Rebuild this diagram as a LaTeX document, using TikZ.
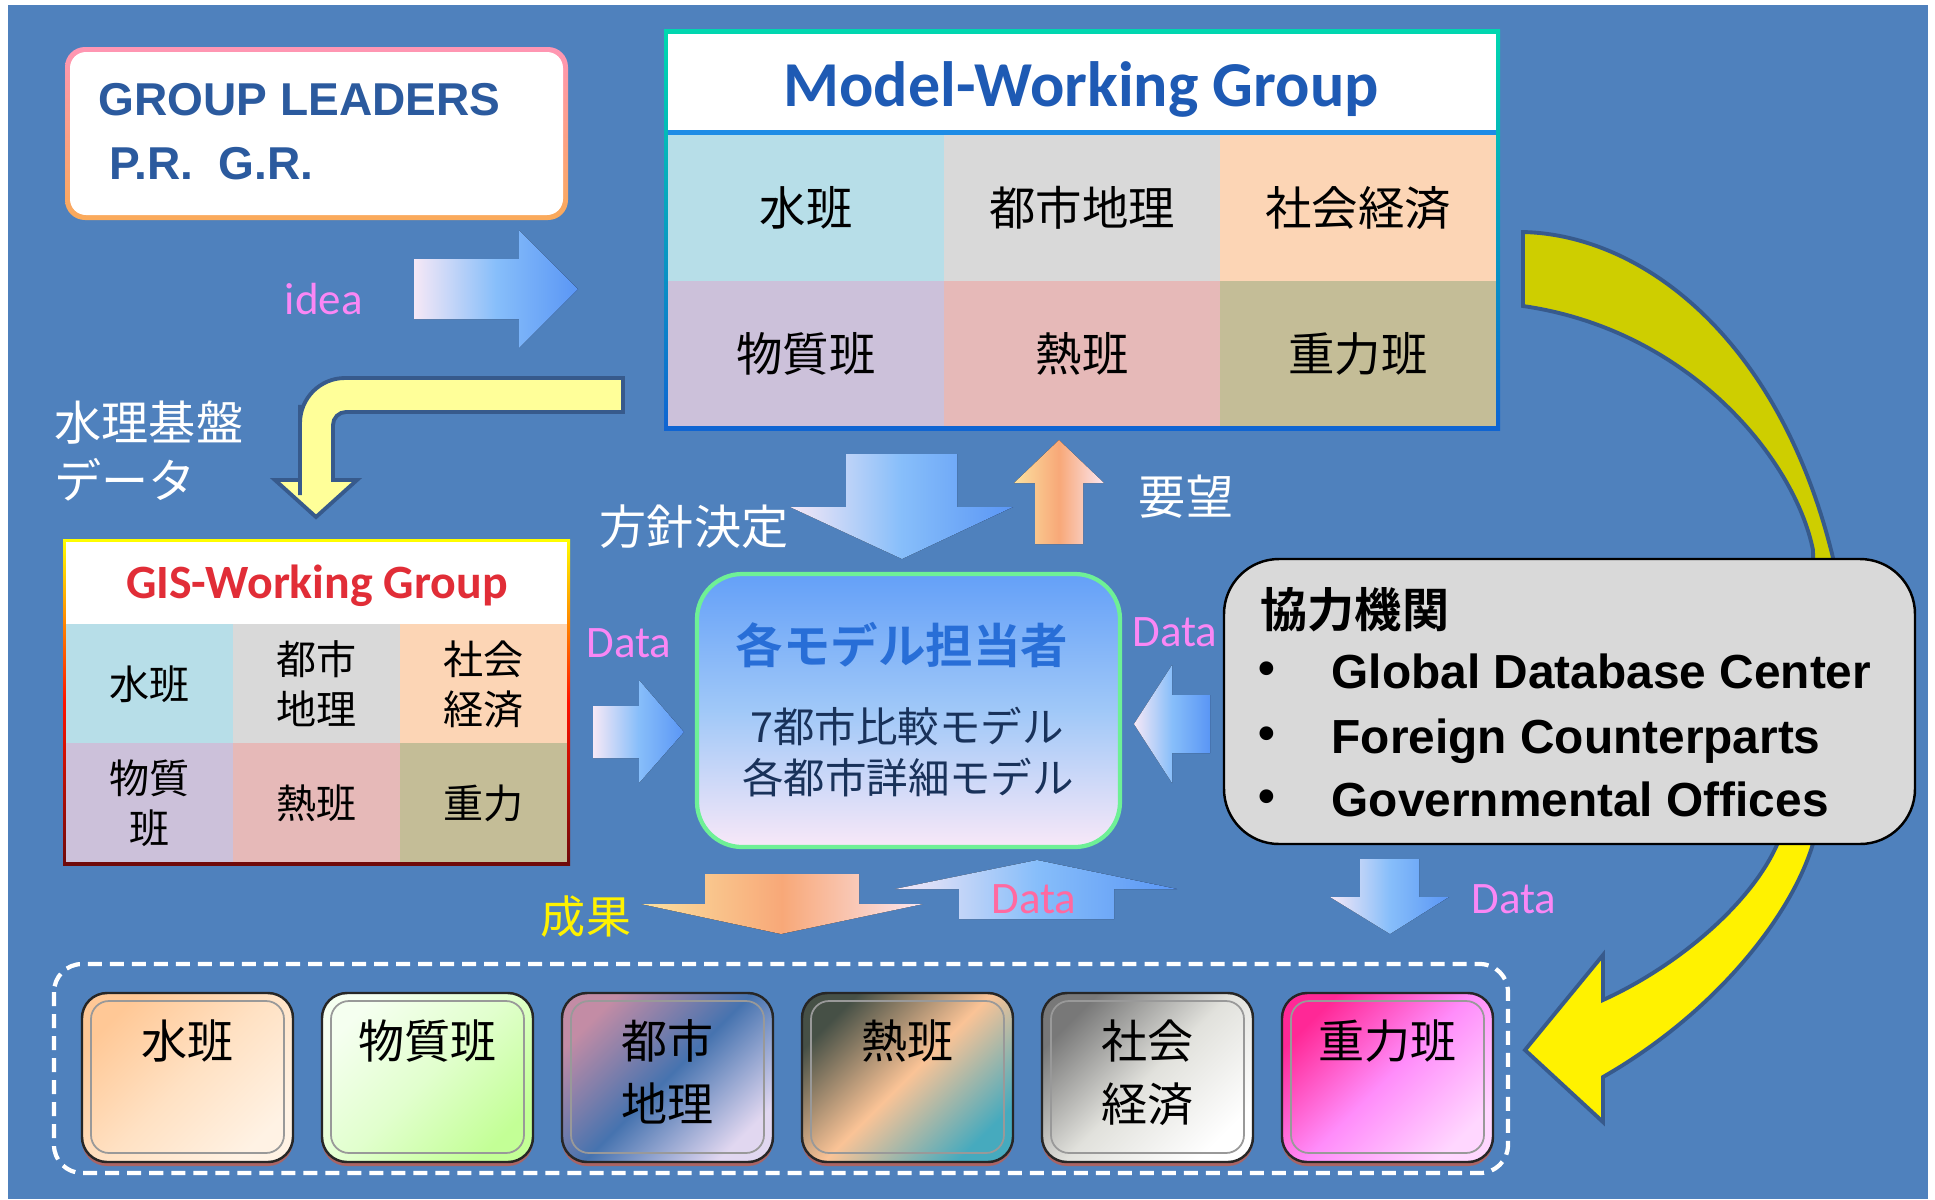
\documentclass[tikz,border=0pt]{standalone}
\usepackage{fontspec}
\setmainfont{Liberation Sans}
\newfontfamily\jp{Noto Sans CJK JP}[BoldFont={Noto Sans CJK JP Bold}]
\newfontfamily\calib{Carlito}
\definecolor{bgblue}{RGB}{79,129,189}
\definecolor{datapink}{RGB}{250,135,245}
\definecolor{datarose}{RGB}{255,105,160}
\definecolor{leadblue}{RGB}{43,90,158}
\definecolor{mwgblue}{RGB}{30,90,180}
\definecolor{gisred}{RGB}{225,45,55}
\definecolor{gisdark}{RGB}{110,10,10}
\definecolor{chiefblue}{RGB}{40,110,215}
\definecolor{navy}{RGB}{25,50,90}
\definecolor{arrowlight}{RGB}{246,232,246}
\definecolor{arrowmid}{RGB}{135,190,250}
\definecolor{arrowblue}{RGB}{90,150,245}
\definecolor{warmlight}{RGB}{251,225,160}
\definecolor{warmmid}{RGB}{248,168,120}
\definecolor{warmpink}{RGB}{251,230,240}
\definecolor{cwater}{RGB}{183,222,232}
\definecolor{ccity}{RGB}{217,217,217}
\definecolor{csocio}{RGB}{252,213,181}
\definecolor{cmatter}{RGB}{204,193,218}
\definecolor{cheat}{RGB}{230,185,184}
\definecolor{cgrav}{RGB}{196,189,151}
\definecolor{mwgteal}{RGB}{0,215,175}
\definecolor{mwgrim}{RGB}{15,100,210}
\definecolor{rimblue}{RGB}{30,140,230}
\definecolor{leadpink}{RGB}{255,150,180}
\definecolor{leadorange}{RGB}{250,170,90}
\definecolor{curveolive}{RGB}{206,206,0}
\definecolor{curveedge}{RGB}{55,90,140}
\definecolor{benty}{RGB}{255,255,153}
\definecolor{chieftop}{RGB}{100,160,248}
\definecolor{chiefmid}{RGB}{160,200,248}
\definecolor{chiefbot}{RGB}{248,232,248}
\definecolor{chiefrim}{RGB}{110,240,150}
\definecolor{partnergray}{RGB}{217,217,217}
\definecolor{btnbrown}{RGB}{170,100,100}
\definecolor{bAa}{RGB}{255,200,150}\definecolor{bAb}{RGB}{255,225,195}\definecolor{bAc}{RGB}{255,242,228}
\definecolor{bBa}{RGB}{245,255,240}\definecolor{bBb}{RGB}{225,255,205}\definecolor{bBc}{RGB}{195,255,150}
\definecolor{bCa}{RGB}{195,140,165}\definecolor{bCb}{RGB}{70,115,175}\definecolor{bCc}{RGB}{225,215,240}
\definecolor{bDa}{RGB}{70,80,70}\definecolor{bDb}{RGB}{250,195,150}\definecolor{bDc}{RGB}{70,170,190}
\definecolor{bEa}{RGB}{120,120,120}\definecolor{bEb}{RGB}{225,225,220}\definecolor{bEc}{RGB}{255,255,255}
\definecolor{bFa}{RGB}{255,40,150}\definecolor{bFb}{RGB}{255,140,250}\definecolor{bFc}{RGB}{255,215,255}
\tikzset{bluearrow/.style={left color=arrowlight, right color=arrowblue, middle color=arrowmid},
	warmarrow/.style={left color=warmlight, right color=warmpink, middle color=warmmid},
	curvearrow/.style={fill=curveolive, draw=curveedge, line width=1.1pt,
		path picture={\fill[yellow] (path picture bounding box.west) rectangle (path picture bounding box.south east);}},
	bentarrow/.style={fill=benty, draw=curveedge, line width=1.1pt},
	leadtext/.style={text=leadblue, font=\bfseries\fontsize{13.1pt}{15pt}\selectfont, inner sep=0pt},
	mwcell/.style={font=\jp\fontsize{13.2pt}{16pt}\selectfont, inner sep=0pt},
	giscell/.style={font=\jp\fontsize{11.4pt}{14.2pt}\selectfont, inner sep=0pt, align=center},
	whitelbl/.style={text=white, font=\jp\fontsize{13.4pt}{16.5pt}\selectfont, inner sep=0pt, align=left},
	datalbl/.style={text=datapink, font=\calib\fontsize{12.8pt}{14pt}\selectfont, inner sep=0pt},
	chieftext/.style={text=navy, font=\jp\fontsize{11.8pt}{14pt}\selectfont, inner sep=0pt},
	partnertext/.style={font=\bfseries\fontsize{13.6pt}{16pt}\selectfont, inner sep=0pt},
	btn/.style={draw=black!85, line width=0.7pt, rounded corners=0.25cm},
	btnin/.style={draw=black!40, line width=0.5pt, rounded corners=0.18cm},
	btntext/.style={font=\jp\fontsize{13.1pt}{17.9pt}\selectfont, inner sep=0pt, align=center, anchor=north}}
\begin{document}
\begin{tikzpicture}[x=0.01cm,y=-0.01cm]
	\useasboundingbox (0,0) rectangle (1935,1199);
	\fill[white] (0,0) rectangle (1935,1199);
	\fill[bgblue] (8,5) rectangle (1928,1199); %background
	% big curved arrow, it runs behind the partners box
	\draw[curvearrow] (1523,232) .. controls (1650,235) and (1790,350) .. (1838,580)
		.. controls (1845,680) and (1835,780) .. (1814,840)
		.. controls (1795,910) and (1720,1010) .. (1603,1077)
		-- (1603,1122) -- (1525,1050) -- (1603,955) -- (1603,1000)
		.. controls (1680,965) and (1755,900) .. (1779,840)
		.. controls (1805,760) and (1815,650) .. (1813,550)
		.. controls (1795,460) and (1690,330) .. (1523,306) -- cycle;
	% group leaders
	\shade[rounded corners=0.2cm, top color=leadpink, bottom color=leadorange] (65,47) rectangle (568,220);
	\fill[white, rounded corners=0.16cm] (70,52) rectangle (563,215);
	\node[leadtext, anchor=base west] (lead1) at (98,115) {GROUP LEADERS};
	\node[leadtext, anchor=base west] (lead2) at (109,179) {P.R.\ \ G.R.};
	\fill[bluearrow] (414,259) -- (519,259) -- (519,230) -- (578,289) -- (519,348) -- (519,319) -- (414,319) -- cycle; %idea arrow
	\node[datalbl, anchor=base west] (idea) at (284,314) {idea};
	% model working group
	\shade[top color=mwgteal, bottom color=mwgrim] (664,29) rectangle (1500,430);
	\fill[white] (668,34) rectangle (1496,130);
	\fill[rimblue] (668,130) rectangle (1496,135);
	\node[text=mwgblue, font=\calib\bfseries\fontsize{18.2pt}{20pt}\selectfont, inner sep=0pt, anchor=base] (mwg) at (1081,106) {Model-Working Group};
	\foreach \c/\r/\col/\t in {0/0/cwater/水班, 1/0/ccity/都市地理, 2/0/csocio/社会経済, 0/1/cmatter/物質班, 1/1/cheat/熱班, 2/1/cgrav/重力班}{
		\fill[\col] (668+276*\c,135+145.5*\r) rectangle ++(276,145.5);
		\node[mwcell] (mw-\c-\r) at (806+276*\c,208+145.5*\r) {\t};
	}
	% bent arrow down to the gis group
	\draw[bentarrow] (623,378) [rounded corners=0.45cm] -- (300,378) -- (300,450) [sharp corners] -- (300,480) -- (275,480) -- (316,517) -- (357,480) -- (333,480) -- (333,440) [rounded corners=0.13cm] -- (333,412) -- (420,412) [sharp corners] -- (623,412) -- cycle;
	\node[whitelbl, anchor=north west] (basedata) at (54,400) {水理基盤\\データ};
	% gis working group
	\shade[top color=yellow, bottom color=gisdark, middle color=red!85!orange] (63,539) rectangle (570,865);
	\fill[white] (66,542) rectangle (567,624);
	\node[text=gisred, font=\calib\bfseries\fontsize{13.6pt}{15pt}\selectfont, inner sep=0pt, anchor=base] (gis) at (317,598) {GIS-Working Group};
	\foreach \c/\r/\col/\t in {0/0/cwater/水班, 1/0/ccity/{都市\\地理}, 2/0/csocio/{社会\\経済}, 0/1/cmatter/{物質\\班}, 1/1/cheat/熱班, 2/1/cgrav/重力}{
		\fill[\col] (66+167*\c,624+119*\r) rectangle ++(167,119);
		\node[giscell] (gis-\c-\r) at (149.5+167*\c,684+119*\r) {\t};
	}
	% arrows round the model makers
	\fill[bluearrow] (846,454) -- (957,454) -- (957,507) -- (1013,507) -- (902,559) -- (790,507) -- (846,507) -- cycle;
	\node[whitelbl] (policy) at (694,527) {方針決定};
	\fill[warmarrow] (1035,544) -- (1035,483) -- (1014,483) -- (1059,440) -- (1104,483) -- (1083,483) -- (1083,544) -- cycle;
	\node[whitelbl] (request) at (1186,497) {要望};
	\fill[bluearrow] (593,706) -- (639,706) -- (639,680) -- (684,732) -- (639,783) -- (639,758) -- (593,758) -- cycle;
	\node[datalbl] (dataL) at (629,643) {Data};
	\fill[bluearrow] (1210,695) -- (1172,695) -- (1172,665) -- (1134,724) -- (1172,783) -- (1172,753) -- (1210,753) -- cycle;
	\node[datalbl] (dataR) at (1175,632) {Data};
	% model makers
	\draw[rounded corners=0.45cm, draw=chiefrim, line width=1.2pt, top color=chieftop, bottom color=chiefbot, middle color=chiefmid] (697,574) rectangle (1120,847);
	\node[text=chiefblue, font=\jp\bfseries\fontsize{13.5pt}{16pt}\selectfont, inner sep=0pt] (chief) at (902,645) {各モデル担当者};
	\node[chieftext] (model7) at (907,727) {7都市比較モデル};
	\node[chieftext] (modeleach) at (908,778) {各都市詳細モデル};
	% partners
	\draw[rounded corners=0.55cm, fill=partnergray, draw=black, line width=0.7pt] (1224,559) rectangle (1915,844);
	\node[font=\jp\bfseries\fontsize{13.4pt}{16pt}\selectfont, inner sep=0pt, anchor=west] (partners) at (1260,610) {協力機関};
	\foreach \y/\t [count=\k] in {688/Global Database Center, 753/Foreign Counterparts, 816/Governmental Offices}{
		\node[partnertext, anchor=base west] (org\k) at (1331,\y) {\t};
		\node[partnertext] (dot\k) at (1267,\y-15) {\textbullet};
	}
	% results and data to the teams
	\fill[warmarrow] (705,874) -- (859,874) -- (859,904) -- (923,904) -- (781,934) -- (641,904) -- (705,904) -- cycle;
	\node[text=yellow, font=\jp\fontsize{12.8pt}{15pt}\selectfont, inner sep=0pt] (result) at (586,917) {成果};
	\fill[bluearrow] (959,919) -- (959,889) -- (895,889) -- (1037,860) -- (1177,889) -- (1114,889) -- (1114,919) -- cycle;
	\node[datalbl, text=datarose] (dataU) at (1034,899) {Data};
	\fill[bluearrow] (1360,859) -- (1419,859) -- (1419,897) -- (1449,897) -- (1390,934) -- (1330,897) -- (1360,897) -- cycle;
	\node[datalbl] (dataD) at (1514,899) {Data};
	% teams
	\draw[white, line width=1.2pt, dash pattern=on 0.14cm off 0.08cm, rounded corners=0.28cm] (54,964) rectangle (1508,1173);
	\foreach \i/\t/\ca/\cb/\cc in {0/水班/bAa/bAb/bAc, 1/物質班/bBa/bBb/bBc, 2/{都市\\地理}/bCa/bCb/bCc, 3/熱班/bDa/bDb/bDc, 4/{社会\\経済}/bEa/bEb/bEc, 5/重力班/bFa/bFb/bFc}{
		\fill[btnbrown, rounded corners=0.25cm] (82+240*\i,997) rectangle ++(211,169); %shadow
		\draw[btn, left color=\ca, right color=\cc, middle color=\cb, shading angle=45] (82+240*\i,993) rectangle ++(211,169);
		\draw[btnin] (91+240*\i,1001) rectangle ++(193,152);
		\node[btntext] (team\i) at (187.5+240*\i,1019) {\t};
	}
\end{tikzpicture}
\end{document}
